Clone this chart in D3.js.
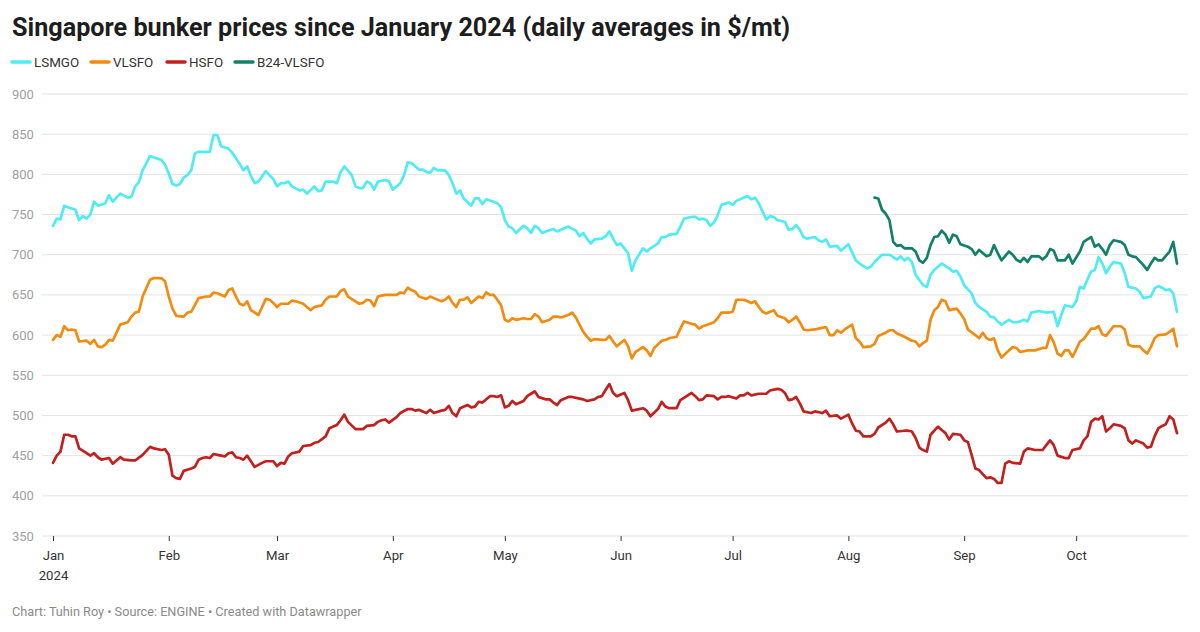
<!DOCTYPE html>
<html>
<head>
<meta charset="utf-8">
<script src="https://cdn.jsdelivr.net/npm/d3@7"></script>
<style>
  body { margin: 0; background: #fff; font-family: Roboto, "Noto Sans", sans-serif; }
  svg text { font-family: Roboto, "Noto Sans", sans-serif; }
</style>
</head>
<body>
<svg id="chart" width="1200" height="632"></svg>
<script>
// daily averages in $/mt: [month-day, price]
var lsmgo = [
  ["01-01",736],["01-02",745],["01-03",744],["01-04",761],["01-05",759],["01-07",756],["01-08",743],["01-09",748],
  ["01-10",745],["01-11",750],["01-12",766],["01-13",761],["01-15",764],["01-16",774],["01-17",766],["01-19",776],
  ["01-21",771],["01-22",772],["01-23",785],["01-24",790],["01-25",805],["01-27",823],["01-28",821],["01-30",818],
  ["01-31",812],["02-01",801],["02-02",788],["02-03",786],["02-04",788],["02-05",796],["02-06",799],["02-07",805],
  ["02-08",826],["02-09",828],["02-12",828],["02-13",849],["02-14",849],["02-15",835],["02-17",832],["02-18",827],
  ["02-19",820],["02-20",813],["02-21",805],["02-22",810],["02-23",798],["02-24",789],["02-25",791],["02-27",804],
  ["02-28",799],["02-29",794],["03-01",785],["03-02",789],["03-03",789],["03-04",791],["03-05",785],["03-07",780],
  ["03-08",781],["03-09",776],["03-11",785],["03-12",779],["03-13",780],["03-14",791],["03-16",791],["03-17",789],
  ["03-18",802],["03-19",810],["03-21",799],["03-22",785],["03-23",783],["03-24",783],["03-25",791],["03-26",789],
  ["03-27",781],["03-28",791],["03-30",793],["03-31",791],["04-01",781],["04-03",789],["04-04",799],["04-05",815],
  ["04-06",814],["04-08",806],["04-09",806],["04-10",803],["04-11",802],["04-12",808],["04-13",805],["04-15",805],
  ["04-16",799],["04-17",789],["04-18",776],["04-19",780],["04-20",770],["04-22",761],["04-23",770],["04-24",770],
  ["04-25",763],["04-26",769],["04-28",766],["04-29",764],["04-30",759],["05-01",743],["05-02",735],["05-03",733],
  ["05-04",727],["05-06",736],["05-07",733],["05-08",727],["05-09",736],["05-10",733],["05-11",727],["05-12",729],
  ["05-14",732],["05-15",729],["05-16",731],["05-18",735],["05-20",730],["05-21",723],["05-22",727],["05-23",720],
  ["05-24",714],["05-25",719],["05-27",720],["05-28",723],["05-29",729],["05-30",720],["05-31",712],["06-01",714],
  ["06-03",702],["06-04",680],["06-05",693],["06-07",708],["06-08",704],["06-09",708],["06-11",714],["06-12",722],
  ["06-13",722],["06-14",725],["06-16",726],["06-17",735],["06-18",745],["06-20",747],["06-21",747],["06-22",744],
  ["06-23",745],["06-24",743],["06-25",736],["06-26",740],["06-27",749],["06-28",762],["06-30",765],["07-01",762],
  ["07-02",767],["07-03",769],["07-05",773],["07-06",769],["07-07",771],["07-08",764],["07-09",754],["07-10",744],
  ["07-11",748],["07-12",747],["07-13",743],["07-15",741],["07-16",731],["07-17",732],["07-18",737],["07-19",731],
  ["07-20",722],["07-21",720],["07-23",722],["07-24",718],["07-25",716],["07-26",719],["07-27",710],["07-29",711],
  ["07-30",705],["08-01",713],["08-03",693],["08-04",689],["08-06",683],["08-07",685],["08-08",691],["08-10",700],
  ["08-11",700],["08-12",700],["08-14",694],["08-15",698],["08-16",693],["08-17",696],["08-18",691],["08-19",675],
  ["08-21",662],["08-22",660],["08-23",675],["08-24",681],["08-25",685],["08-26",689],["08-28",683],["08-29",679],
  ["08-30",680],["08-31",673],["09-01",662],["09-03",652],["09-04",640],["09-05",635],["09-07",629],["09-08",623],
  ["09-09",622],["09-10",617],["09-11",613],["09-13",619],["09-14",616],["09-15",616],["09-16",617],["09-17",619],
  ["09-18",617],["09-19",628],["09-21",630],["09-22",629],["09-23",628],["09-25",629],["09-26",611],["09-27",625],
  ["09-28",637],["09-30",635],["10-01",642],["10-02",660],["10-03",658],["10-04",669],["10-05",679],["10-06",681],
  ["10-07",697],["10-08",689],["10-09",677],["10-10",685],["10-11",691],["10-13",689],["10-14",677],["10-15",660],
  ["10-17",658],["10-18",654],["10-19",646],["10-21",648],["10-22",658],["10-23",661],["10-24",659],["10-25",656],
  ["10-26",657],["10-27",652],["10-28",629]
];

var vlsfo = [
  ["01-01",594],["01-02",600],["01-03",598],["01-04",611],["01-05",606],["01-06",607],["01-07",606],["01-08",592],
  ["01-10",593],["01-11",589],["01-12",594],["01-13",586],["01-14",585],["01-15",588],["01-16",594],["01-17",593],
  ["01-19",613],["01-21",616],["01-22",623],["01-23",628],["01-24",629],["01-25",648],["01-27",669],["01-28",671],
  ["01-30",671],["01-31",667],["02-01",648],["02-02",633],["02-03",624],["02-05",623],["02-06",628],["02-07",629],
  ["02-09",646],["02-11",648],["02-12",648],["02-13",653],["02-14",652],["02-16",648],["02-17",656],["02-18",658],
  ["02-19",648],["02-20",639],["02-21",637],["02-22",642],["02-23",631],["02-25",625],["02-26",635],["02-27",645],
  ["02-28",644],["02-29",640],["03-01",635],["03-02",639],["03-04",639],["03-05",643],["03-06",642],["03-08",639],
  ["03-09",635],["03-10",631],["03-11",635],["03-12",636],["03-13",637],["03-14",644],["03-15",648],["03-17",648],
  ["03-18",655],["03-19",657],["03-20",648],["03-22",642],["03-23",639],["03-24",640],["03-25",644],["03-26",643],
  ["03-27",636],["03-28",648],["03-30",650],["03-31",650],["04-02",650],["04-03",653],["04-04",652],["04-05",659],
  ["04-06",656],["04-07",654],["04-08",648],["04-10",645],["04-11",648],["04-12",646],["04-14",642],["04-15",644],
  ["04-16",648],["04-17",640],["04-18",635],["04-19",644],["04-20",644],["04-21",647],["04-22",640],["04-23",644],
  ["04-24",648],["04-25",646],["04-26",653],["04-27",650],["04-28",650],["04-29",644],["04-30",637],["05-01",619],
  ["05-02",617],["05-03",621],["05-04",619],["05-06",621],["05-07",620],["05-08",620],["05-09",626],["05-10",623],
  ["05-11",616],["05-13",619],["05-14",623],["05-15",623],["05-16",622],["05-18",625],["05-19",628],["05-20",622],
  ["05-21",613],["05-22",604],["05-23",598],["05-24",593],["05-25",595],["05-27",594],["05-28",594],["05-29",599],
  ["05-30",592],["05-31",586],["06-02",594],["06-03",586],["06-04",571],["06-05",579],["06-07",585],["06-08",581],
  ["06-09",574],["06-10",584],["06-12",593],["06-13",594],["06-14",596],["06-16",598],["06-17",608],["06-18",617],
  ["06-20",614],["06-21",613],["06-22",608],["06-23",611],["06-25",614],["06-26",616],["06-27",621],["06-28",628],
  ["06-30",628],["07-01",629],["07-02",644],["07-04",644],["07-05",642],["07-06",640],["07-07",642],["07-08",635],
  ["07-09",629],["07-10",627],["07-12",631],["07-13",624],["07-15",621],["07-16",616],["07-17",619],["07-18",623],
  ["07-19",616],["07-20",607],["07-21",606],["07-23",607],["07-24",608],["07-26",610],["07-27",600],["07-28",600],
  ["07-29",606],["07-30",603],["07-31",607],["08-02",613],["08-03",596],["08-04",592],["08-05",585],["08-07",586],
  ["08-08",589],["08-09",599],["08-11",603],["08-12",606],["08-13",606],["08-14",602],["08-15",600],["08-16",598],
  ["08-18",593],["08-19",592],["08-20",586],["08-21",590],["08-22",593],["08-23",619],["08-24",631],["08-25",635],
  ["08-26",644],["08-27",642],["08-28",631],["08-30",633],["08-31",627],["09-01",620],["09-02",607],["09-04",600],
  ["09-05",596],["09-06",603],["09-07",596],["09-08",594],["09-09",596],["09-10",581],["09-11",572],["09-13",581],
  ["09-14",585],["09-15",584],["09-16",579],["09-18",581],["09-19",581],["09-20",581],["09-22",584],["09-23",584],
  ["09-24",600],["09-25",591],["09-26",577],["09-27",574],["09-28",581],["09-29",581],["09-30",573],["10-01",582],
  ["10-02",592],["10-03",595],["10-05",608],["10-06",608],["10-07",611],["10-08",601],["10-09",599],["10-11",611],
  ["10-13",611],["10-14",607],["10-15",588],["10-16",586],["10-18",586],["10-19",581],["10-20",577],["10-21",585],
  ["10-22",596],["10-23",600],["10-25",601],["10-26",604],["10-27",608],["10-28",586]
];

var hsfo = [
  ["01-01",441],["01-02",450],["01-03",455],["01-04",476],["01-05",476],["01-06",474],["01-07",474],["01-08",459],
  ["01-10",453],["01-11",450],["01-12",453],["01-13",448],["01-14",445],["01-16",447],["01-17",440],["01-19",448],
  ["01-20",445],["01-22",444],["01-23",444],["01-25",451],["01-27",461],["01-28",459],["01-30",457],["01-31",458],
  ["02-01",451],["02-02",425],["02-03",422],["02-04",421],["02-05",431],["02-07",434],["02-08",436],["02-09",445],
  ["02-10",447],["02-11",448],["02-12",447],["02-13",452],["02-14",451],["02-16",449],["02-17",453],["02-18",454],
  ["02-19",448],["02-20",447],["02-21",445],["02-22",450],["02-23",443],["02-24",436],["02-26",441],["02-27",443],
  ["02-29",443],["03-01",437],["03-02",441],["03-03",440],["03-04",449],["03-05",453],["03-07",455],["03-08",462],
  ["03-10",463],["03-11",466],["03-12",467],["03-14",474],["03-15",484],["03-17",488],["03-18",494],["03-19",501],
  ["03-20",492],["03-22",483],["03-24",483],["03-25",487],["03-27",488],["03-28",492],["03-29",494],["03-30",495],
  ["03-31",491],["04-02",498],["04-03",503],["04-05",508],["04-06",508],["04-07",506],["04-08",507],["04-09",505],
  ["04-10",503],["04-11",507],["04-12",503],["04-14",506],["04-15",507],["04-16",512],["04-17",503],["04-18",499],
  ["04-19",509],["04-21",513],["04-22",510],["04-23",511],["04-24",517],["04-25",516],["04-27",524],["04-28",524],
  ["04-29",523],["04-30",525],["05-01",510],["05-02",512],["05-03",518],["05-04",514],["05-06",518],["05-07",524],
  ["05-08",527],["05-09",530],["05-10",523],["05-12",520],["05-13",520],["05-14",516],["05-15",513],["05-16",519],
  ["05-18",523],["05-19",523],["05-21",521],["05-22",520],["05-23",518],["05-25",520],["05-26",523],["05-27",524],
  ["05-28",532],["05-29",539],["05-30",528],["05-31",524],["06-02",528],["06-03",519],["06-04",506],["06-05",507],
  ["06-07",509],["06-08",506],["06-09",499],["06-11",508],["06-12",517],["06-13",511],["06-14",509],["06-16",509],
  ["06-17",519],["06-19",525],["06-20",528],["06-21",524],["06-22",519],["06-23",520],["06-24",525],["06-26",524],
  ["06-27",520],["06-28",523],["06-29",523],["06-30",524],["07-02",521],["07-03",525],["07-04",525],["07-05",528],
  ["07-06",525],["07-08",527],["07-10",527],["07-11",531],["07-13",533],["07-14",532],["07-15",528],["07-16",519],
  ["07-17",520],["07-18",523],["07-19",515],["07-20",505],["07-22",503],["07-23",505],["07-25",503],["07-26",506],
  ["07-27",499],["07-29",500],["07-30",496],["08-01",501],["08-02",490],["08-03",481],["08-04",480],["08-05",474],
  ["08-07",474],["08-08",477],["08-09",485],["08-11",491],["08-12",496],["08-13",489],["08-14",480],["08-16",481],
  ["08-17",481],["08-18",480],["08-19",472],["08-20",460],["08-21",457],["08-22",455],["08-23",476],["08-25",486],
  ["08-26",482],["08-27",478],["08-28",470],["08-29",477],["08-31",476],["09-01",469],["09-02",467],["09-03",451],
  ["09-04",434],["09-05",432],["09-06",427],["09-07",422],["09-08",423],["09-09",421],["09-10",416],["09-11",416],
  ["09-12",440],["09-13",443],["09-14",441],["09-16",440],["09-17",455],["09-18",459],["09-20",457],["09-22",457],
  ["09-23",463],["09-24",469],["09-25",463],["09-26",450],["09-28",447],["09-29",447],["09-30",457],["10-02",459],
  ["10-03",469],["10-04",474],["10-05",492],["10-06",496],["10-07",495],["10-08",499],["10-09",480],["10-10",484],
  ["10-11",489],["10-13",487],["10-14",484],["10-15",469],["10-16",465],["10-17",469],["10-19",465],["10-20",460],
  ["10-21",461],["10-22",474],["10-23",484],["10-24",487],["10-25",489],["10-26",499],["10-27",495],["10-28",478]
];

var b24vlsfo = [
  ["08-08",771],["08-09",770],["08-10",756],["08-11",751],["08-12",743],["08-13",716],["08-14",711],["08-15",712],
  ["08-16",708],["08-18",708],["08-19",704],["08-20",693],["08-21",690],["08-22",696],["08-23",712],["08-24",722],
  ["08-25",723],["08-26",730],["08-27",725],["08-28",715],["08-29",725],["08-30",723],["08-31",713],["09-02",710],
  ["09-03",707],["09-04",700],["09-05",706],["09-07",698],["09-08",700],["09-09",712],["09-10",702],["09-11",693],
  ["09-13",704],["09-14",700],["09-15",694],["09-16",691],["09-17",696],["09-18",691],["09-19",698],["09-21",698],
  ["09-22",694],["09-23",698],["09-24",707],["09-25",705],["09-26",693],["09-28",693],["09-29",700],["09-30",689],
  ["10-02",704],["10-03",716],["10-04",719],["10-05",722],["10-06",710],["10-07",713],["10-08",707],["10-09",700],
  ["10-10",712],["10-11",718],["10-13",716],["10-14",712],["10-15",700],["10-16",698],["10-17",697],["10-19",687],
  ["10-20",681],["10-21",689],["10-22",696],["10-23",693],["10-24",693],["10-26",704],["10-27",716],["10-28",689]
];

var seriesNames = ["LSMGO", "VLSFO", "HSFO", "B24-VLSFO"];
var seriesColors = ["#4fedf3", "#f28c10", "#c1201f", "#13806a"];
var yTicks = [350, 400, 450, 500, 550, 600, 650, 700, 750, 800, 850, 900];
var monthTicks = ["01-01","02-01","03-01","04-01","05-01","06-01","07-01","08-01","09-01","10-01"];

var parseDate = d3.timeParse("%Y-%m-%d");
function toPoints(rows){
  return rows.map(r => ({ date: parseDate("2024-" + r[0]), value: r[1] }));
}
var allSeries = [lsmgo, vlsfo, hsfo, b24vlsfo].map(toPoints);

var svg = d3.select("#chart");

var x = d3.scaleTime()
  .domain([parseDate("2024-01-01"), parseDate("2024-10-28")])
  .range([53, 1177]);
var y = d3.scaleLinear()
  .domain([350, 900])
  .range([536, 94]);

// title
svg.append("text")
  .attr("x", 12).attr("y", 36)
  .attr("font-size", 25.2).attr("font-weight", 700)
  .attr("fill", "#1d1d1d")
  .text("Singapore bunker prices since January 2024 (daily averages in $/mt)");

// legend
var legendX = [12, 91, 167, 235];
var legend = svg.append("g").selectAll("g")
  .data(seriesNames)
  .enter().append("g")
  .attr("transform", (d, i) => "translate(" + legendX[i] + ",62)");
legend.append("line")
  .attr("x1", 0).attr("x2", 18)
  .attr("stroke", (d, i) => seriesColors[i])
  .attr("stroke-width", 3.5)
  .attr("stroke-linecap", "round");
legend.append("text")
  .attr("x", 22).attr("y", 4.7)
  .attr("font-size", 13.4).attr("fill", "#333")
  .text(d => d);

// grid + y labels
var grid = svg.append("g");
grid.selectAll("line")
  .data(yTicks)
  .enter().append("line")
  .attr("x1", 42).attr("x2", 1188)
  .attr("y1", d => y(d)).attr("y2", d => y(d))
  .attr("stroke", "#e3e3e3").attr("stroke-width", 1);
grid.selectAll("text")
  .data(yTicks)
  .enter().append("text")
  .attr("x", 12).attr("y", d => y(d) + 4.5)
  .attr("font-size", 13).attr("fill", "#a0a0a0")
  .text(d => d);

// x axis
var xAxis = svg.append("g")
  .attr("transform", "translate(0," + y(350) + ")")
  .call(d3.axisBottom(x)
    .tickValues(monthTicks.map(m => parseDate("2024-" + m)))
    .tickSize(5)
    .tickPadding(10)
    .tickFormat(d3.timeFormat("%b")));
xAxis.select(".domain").remove();
xAxis.selectAll(".tick line").attr("stroke", "#333");
xAxis.selectAll(".tick text")
  .attr("font-size", 13.2).attr("fill", "#333")
  .attr("font-family", "Roboto, sans-serif");
xAxis.select(".tick text")
  .append("tspan").attr("x", 0).attr("dy", "1.45em").text("2024");

// lines
var line = d3.line()
  .x(d => x(d.date))
  .y(d => y(d.value));

svg.append("g").selectAll("path")
  .data(allSeries)
  .enter().append("path")
  .attr("d", line)
  .attr("fill", "none")
  .attr("stroke", (d, i) => seriesColors[i])
  .attr("stroke-width", 2.7)
  .attr("stroke-linejoin", "round")
  .attr("stroke-linecap", "round");

// footer
svg.append("text")
  .attr("x", 12).attr("y", 616)
  .attr("font-size", 12.7).attr("fill", "#8a8a8a")
  .text("Chart: Tuhin Roy \u2022 Source: ENGINE \u2022 Created with Datawrapper");
</script>
</body>
</html>
